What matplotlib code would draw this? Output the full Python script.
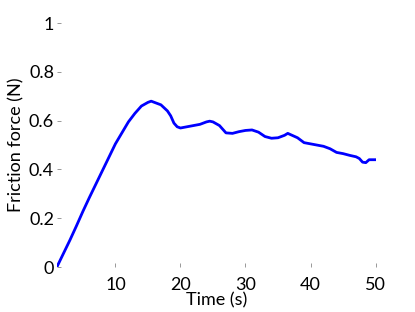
import matplotlib.pyplot as plt

plt.rcParams['font.family'] = ['Lato', 'DejaVu Sans']

# values
time_s = [1, 2, 3, 4, 5, 6, 7, 8, 9, 10, 11, 12, 13, 14, 15, 15.5, 16, 17, 18,
          18.5, 19, 19.5, 20, 21, 22, 23, 24, 24.5, 25, 26, 27, 28, 29, 30, 31,
          32, 33, 34, 35, 36, 36.5, 37, 38, 39, 40, 41, 42, 43, 44, 45, 46, 47,
          47.5, 48, 48.5, 49, 50]
friction_n = [0.0, 0.055, 0.11, 0.168, 0.228, 0.285, 0.34, 0.395, 0.45, 0.505,
              0.55, 0.595, 0.63, 0.66, 0.675, 0.68, 0.675, 0.665, 0.64, 0.62,
              0.59, 0.575, 0.57, 0.575, 0.58, 0.585, 0.595, 0.598, 0.595, 0.58,
              0.55, 0.548, 0.555, 0.56, 0.562, 0.553, 0.535, 0.528, 0.53, 0.54,
              0.548, 0.542, 0.53, 0.51, 0.505, 0.5, 0.495, 0.485, 0.47, 0.465,
              0.458, 0.452, 0.445, 0.43, 0.428, 0.44, 0.44]

x_ticks = [10, 20, 30, 40, 50]
y_ticks = [0, 0.2, 0.4, 0.6, 0.8, 1]
y_tick_labels = ['0', '0.2', '0.4', '0.6', '0.8', '1']

fig = plt.figure(figsize=(4.15, 3.12), dpi=100)
ax = fig.add_axes([0.137, 0.144, 0.768, 0.782])

ax.plot(time_s, friction_n, color='#0000ff', linewidth=2.0)

ax.set_xlim(1, 50)
ax.set_ylim(0, 1)
ax.set_xticks(x_ticks)
ax.set_yticks(y_ticks)
ax.set_yticklabels(y_tick_labels)

for side in ['top', 'right', 'left', 'bottom']:
    ax.spines[side].set_visible(False)

ax.tick_params(direction='in', length=3, width=0.6, color='#888888',
               labelsize=13)
ax.tick_params(axis='x', pad=7)
ax.tick_params(axis='y', pad=2)

ax.set_xlabel('Time (s)', fontsize=13, labelpad=0)
ax.set_ylabel('Friction force (N)', fontsize=13, labelpad=3)

fig.savefig('out.png', dpi=100)
